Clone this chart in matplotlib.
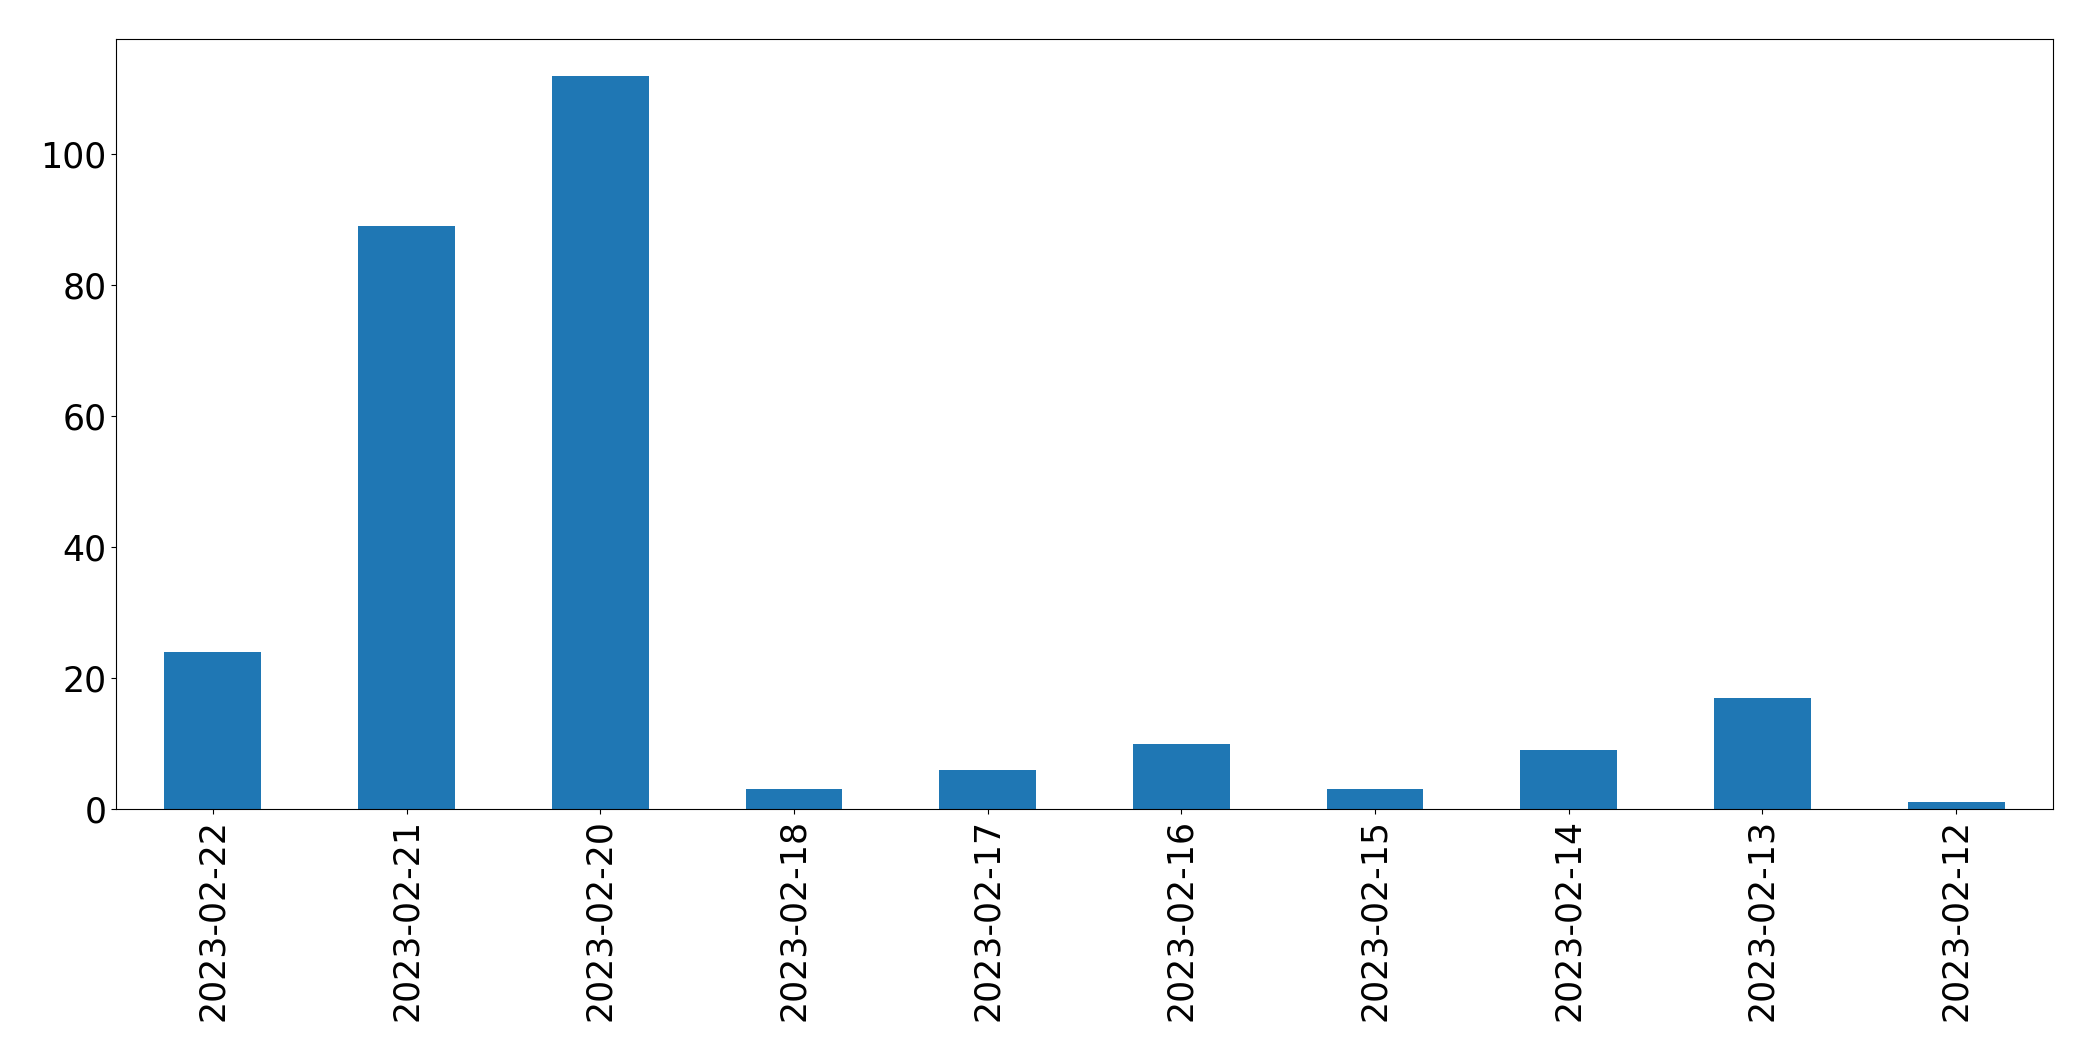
import matplotlib
matplotlib.use("Agg")
import matplotlib.pyplot as plt

# dates and counts
dates = ['2023-02-22', '2023-02-21', '2023-02-20', '2023-02-18', '2023-02-17',
         '2023-02-16', '2023-02-15', '2023-02-14', '2023-02-13', '2023-02-12']
counts = [24, 89, 112, 3, 6, 10, 3, 9, 17, 1]

fig = plt.figure(figsize=(20.93, 10.61), dpi=100)
ax = fig.add_axes([116 / 2093, 1 - 809 / 1061, (2053 - 116) / 2093, (809 - 39) / 1061])

# bars like pandas plot.bar does them
x = range(len(dates))
ax.bar(x, counts, width=0.5, color='#1f77b4')
ax.set_xlim(-0.5, len(dates) - 0.5)
ax.set_ylim(0, max(counts) * 1.05)
ax.set_xticks(list(x))
ax.set_xticklabels(dates, rotation=90)
ax.tick_params(labelsize=25)

fig.savefig('out.png', dpi=100)
